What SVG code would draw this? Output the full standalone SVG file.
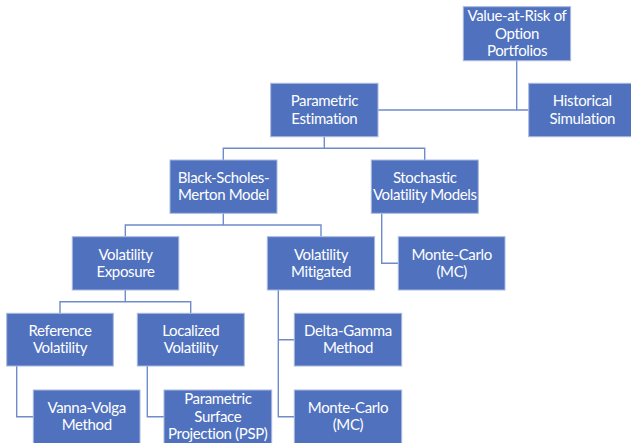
<svg xmlns="http://www.w3.org/2000/svg" width="631" height="443" viewBox="0 0 631 443">
<style>
.box{fill:#4f71be;stroke:#a9b9e0;stroke-width:1}
.t{font-family:Lato,"Liberation Sans",Arial,sans-serif;font-size:15px;letter-spacing:-0.35px;fill:#ffffff;text-anchor:middle}
.c{fill:none;stroke:#6f8bcb;stroke-width:1.4}
</style>
<rect width="631" height="443" fill="#ffffff"/>
<g id="connectors">
<path class="c" d="M516.7,60.7 V110 M378,110 H528.7"/>
<path class="c" d="M324.3,136.7 V148.3 M223.3,160 V148.3 H424.7 V160"/>
<path class="c" d="M223.3,213.3 V225 M125.3,236.7 V225 H321 V236.7"/>
<path class="c" d="M381.7,213.3 V263.3 H398.3"/>
<path class="c" d="M125.3,290 V301.7 M60,313.3 V301.7 H190.7 V313.3"/>
<path class="c" d="M278.3,290 V416.7 H294.3 M278.3,339.7 H294.3"/>
<path class="c" d="M16.7,366 V416.7 H33.3"/>
<path class="c" d="M147.3,366 V416.7 H164"/>
</g>
<g id="var">
<rect class="box" x="463.3" y="6.7" width="107.3" height="54"/>
<text class="t" x="517" y="21.4">Value-at-Risk of</text>
<text class="t" x="517" y="38.7">Option</text>
<text class="t" x="517" y="56">Portfolios</text>
</g>
<g id="parametric">
<rect class="box" x="270.7" y="83.3" width="107.3" height="53.4"/>
<text class="t" x="324.3" y="106.4">Parametric</text>
<text class="t" x="324.3" y="123.7">Estimation</text>
</g>
<g id="historical">
<rect class="box" x="528.7" y="83.3" width="107.3" height="53.4"/>
<text class="t" x="582.3" y="106.4">Historical</text>
<text class="t" x="582.3" y="123.7">Simulation</text>
</g>
<g id="bsm">
<rect class="box" x="170" y="160" width="107" height="53.3"/>
<text class="t" x="223.5" y="183">Black-Scholes-</text>
<text class="t" x="223.5" y="200.3">Merton Model</text>
</g>
<g id="stochastic">
<rect class="box" x="371.3" y="160" width="107" height="53.3"/>
<text class="t" x="424.8" y="183">Stochastic</text>
<text class="t" x="424.8" y="200.3">Volatility Models</text>
</g>
<g id="vol-exposure">
<rect class="box" x="72.3" y="236.7" width="106.5" height="53.3"/>
<text class="t" x="125.5" y="259.7">Volatility</text>
<text class="t" x="125.5" y="277">Exposure</text>
</g>
<g id="vol-mitigated">
<rect class="box" x="267.3" y="236.7" width="107.3" height="53.3"/>
<text class="t" x="321" y="259.7">Volatility</text>
<text class="t" x="321" y="277">Mitigated</text>
</g>
<g id="mc-stochastic">
<rect class="box" x="398.3" y="236.7" width="106.7" height="53.3"/>
<text class="t" x="451.7" y="259.7">Monte-Carlo</text>
<text class="t" x="451.7" y="277">(MC)</text>
</g>
<g id="ref-vol">
<rect class="box" x="6.7" y="313.3" width="106.6" height="52.7"/>
<text class="t" x="60" y="336">Reference</text>
<text class="t" x="60" y="353.3">Volatility</text>
</g>
<g id="loc-vol">
<rect class="box" x="137.3" y="313.3" width="107" height="52.7"/>
<text class="t" x="190.8" y="336">Localized</text>
<text class="t" x="190.8" y="353.3">Volatility</text>
</g>
<g id="delta-gamma">
<rect class="box" x="294.3" y="313.3" width="107.4" height="52.7"/>
<text class="t" x="348" y="336">Delta-Gamma</text>
<text class="t" x="348" y="353.3">Method</text>
</g>
<g id="vanna-volga">
<rect class="box" x="33.3" y="390" width="106.7" height="54"/>
<text class="t" x="86.7" y="413">Vanna-Volga</text>
<text class="t" x="86.7" y="430.3">Method</text>
</g>
<g id="psp">
<rect class="box" x="164" y="390" width="107.7" height="54"/>
<text class="t" x="217.8" y="404.4">Parametric</text>
<text class="t" x="217.8" y="421.7">Surface</text>
<text class="t" x="217.8" y="439">Projection (PSP)</text>
</g>
<g id="mc-mitigated">
<rect class="box" x="294.3" y="390" width="107.4" height="54"/>
<text class="t" x="348" y="413">Monte-Carlo</text>
<text class="t" x="348" y="430.3">(MC)</text>
</g>
</svg>
